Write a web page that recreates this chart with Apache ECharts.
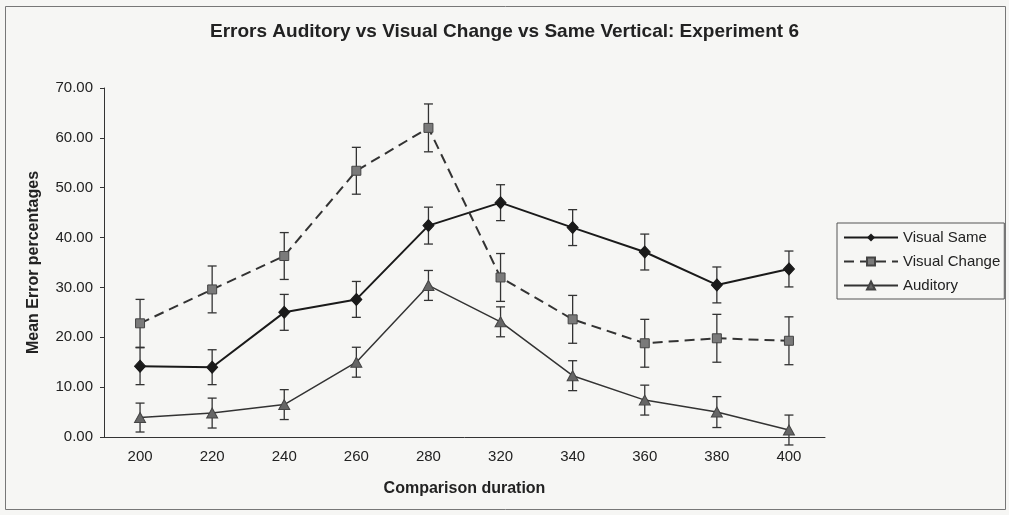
<!DOCTYPE html>
<html>
<head>
<meta charset="utf-8">
<script src="https://cdn.jsdelivr.net/npm/echarts@6/dist/echarts.min.js"></script>
<style>
  html, body { margin: 0; padding: 0; background: #f6f6f4; }
  #chart { width: 1009px; height: 515px; }
</style>
</head>
<body>
<div id="chart"></div>
<script>
// comparison durations (x categories)
var durations = ['200', '220', '240', '260', '280', '320', '340', '360', '380', '400'];

// mean error percentages
var visualSame   = [14.2, 14.0, 25.0, 27.6, 42.4, 47.0, 42.0, 37.1, 30.5, 33.7];
var visualChange = [22.8, 29.6, 36.3, 53.4, 62.0, 32.0, 23.6, 18.8, 19.8, 19.3];
var auditory     = [3.9, 4.8, 6.5, 15.0, 30.4, 23.1, 12.3, 7.4, 5.0, 1.4];

// error bar half-widths
var errSame   = [3.7, 3.5, 3.6, 3.6, 3.7, 3.6, 3.6, 3.6, 3.6, 3.6];
var errChange = [4.8, 4.7, 4.7, 4.7, 4.8, 4.8, 4.8, 4.8, 4.8, 4.8];
var errAud    = [2.9, 3.0, 3.0, 3.0, 3.0, 3.0, 3.0, 3.0, 3.1, 3.0];

var font = '"Liberation Sans", Arial, sans-serif';

var myChart = echarts.init(document.getElementById('chart'));

function errorSeries(name, values, errs) {
  var data = values.map(function (v, i) { return [i, v - errs[i], v + errs[i]]; });
  return {
    name: name + ' err',
    type: 'custom',
    z: 1,
    data: data,
    renderItem: function (params, api) {
      var lo = api.coord([api.value(0), api.value(1)]);
      var hi = api.coord([api.value(0), api.value(2)]);
      var w = 4.5;
      var st = { stroke: '#333', lineWidth: 1.3 };
      return {
        type: 'group',
        children: [
          { type: 'line', shape: { x1: lo[0], y1: lo[1], x2: hi[0], y2: hi[1] }, style: st },
          { type: 'line', shape: { x1: lo[0] - w, y1: lo[1], x2: lo[0] + w, y2: lo[1] }, style: st },
          { type: 'line', shape: { x1: hi[0] - w, y1: hi[1], x2: hi[0] + w, y2: hi[1] }, style: st }
        ]
      };
    },
    encode: { x: 0, y: [1, 2] },
    silent: true
  };
}

var option = {
  backgroundColor: '#f6f6f4',
  animation: false,
  title: {
    text: 'Errors Auditory vs Visual Change vs Same Vertical: Experiment 6',
    left: 'center',
    top: 22,
    padding: 0,
    textStyle: { fontFamily: font, fontSize: 19, fontWeight: 'bold', color: '#222' }
  },
  legend: {
    data: ['Visual Same', 'Visual Change', 'Auditory'],
    orient: 'vertical',
    left: 837,
    top: 223,
    padding: [7, 4, 6, 6],
    itemGap: 9,
    itemWidth: 54,
    itemHeight: 10,
    borderColor: '#555',
    borderWidth: 1,
    backgroundColor: '#f6f6f4',
    textStyle: { fontFamily: font, fontSize: 15, color: '#222' }
  },
  grid: { left: 104, right: 184, top: 88, bottom: 78 },
  xAxis: {
    type: 'category',
    data: durations,
    name: 'Comparison duration',
    nameLocation: 'middle',
    nameGap: 44,
    nameTextStyle: { fontFamily: font, fontSize: 16, fontWeight: 'bold', color: '#222' },
    axisLine: { lineStyle: { color: '#333', width: 1 } },
    axisTick: { length: 5, lineStyle: { color: '#333' } },
    axisLabel: { fontFamily: font, fontSize: 15, color: '#222', margin: 12 },
    splitLine: { show: false }
  },
  yAxis: {
    type: 'value',
    min: 0,
    max: 70,
    interval: 10,
    name: 'Mean Error percentages',
    nameLocation: 'middle',
    nameGap: 62,
    nameTextStyle: { fontFamily: font, fontSize: 16, fontWeight: 'bold', color: '#222' },
    axisLine: { show: true, lineStyle: { color: '#333', width: 1 } },
    axisTick: { show: true, length: 4, lineStyle: { color: '#333' } },
    axisLabel: {
      fontFamily: font, fontSize: 15, color: '#222', margin: 11,
      formatter: function (v) { return v.toFixed(2); }
    },
    splitLine: { show: false }
  },
  series: [
    errorSeries('Visual Same', visualSame, errSame),
    errorSeries('Visual Change', visualChange, errChange),
    errorSeries('Auditory', auditory, errAud),
    {
      name: 'Visual Same',
      type: 'line',
      data: visualSame,
      z: 3,
      symbol: 'diamond',
      symbolSize: [11, 12],
      lineStyle: { color: '#1a1a1a', width: 2 },
      itemStyle: { color: '#1a1a1a', borderColor: '#1a1a1a' }
    },
    {
      name: 'Visual Change',
      type: 'line',
      data: visualChange,
      z: 3,
      symbol: 'rect',
      symbolSize: 9,
      lineStyle: { color: '#333', width: 2, type: [10, 6] },
      itemStyle: { color: '#7a7a7a', borderColor: '#444', borderWidth: 1 }
    },
    {
      name: 'Auditory',
      type: 'line',
      data: auditory,
      z: 3,
      symbol: 'triangle',
      symbolSize: [11, 10],
      lineStyle: { color: '#333', width: 1.5 },
      itemStyle: { color: '#666', borderColor: '#444', borderWidth: 1 }
    }
  ],
  graphic: [{
    type: 'rect',
    silent: true,
    z: -1,
    shape: { x: 5.5, y: 6.5, width: 1000, height: 503 },
    style: { fill: null, stroke: '#777', lineWidth: 1 }
  }]
};

myChart.setOption(option);
</script>
</body>
</html>
